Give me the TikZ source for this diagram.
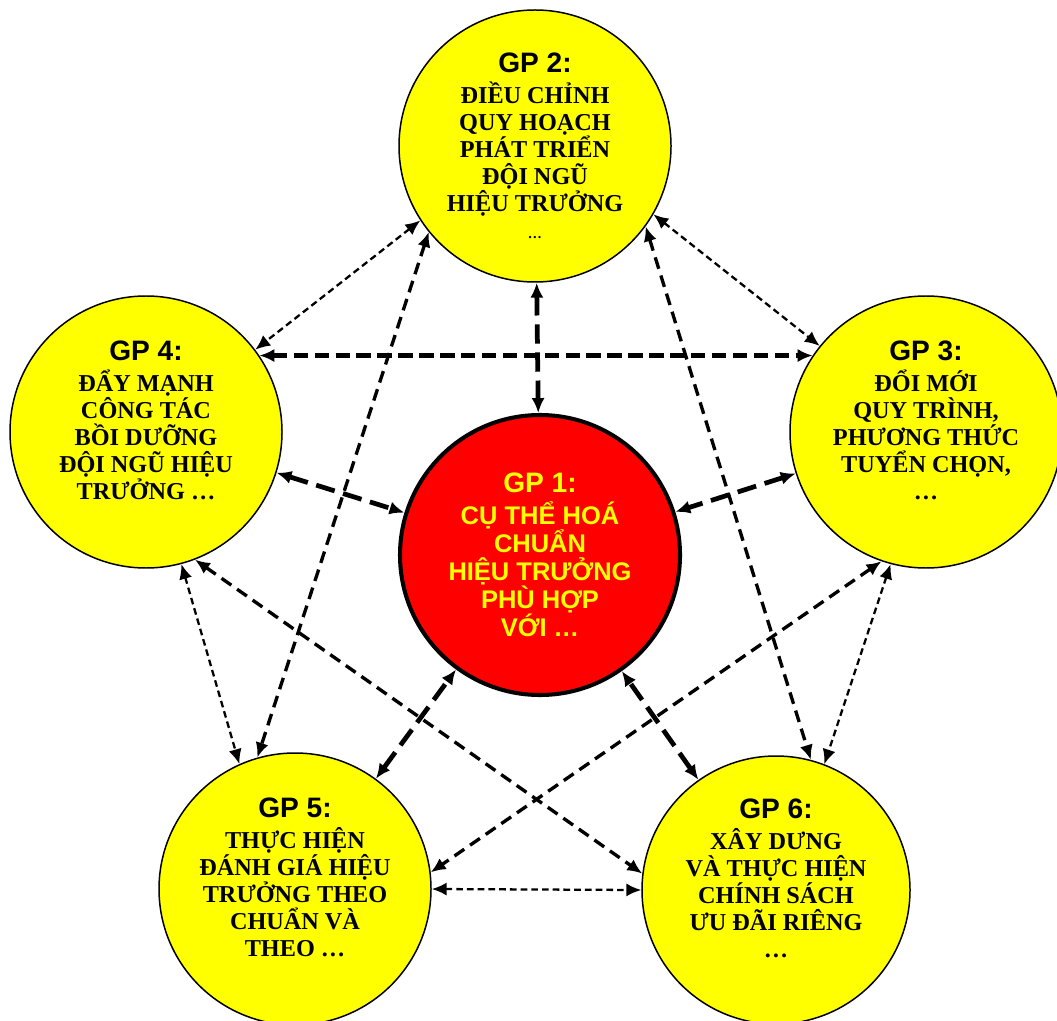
\documentclass[tikz,border=0pt]{standalone}
\usepackage{fontspec}
\setmainfont{Liberation Serif}
\newfontfamily\gpsans{Liberation Sans}
\usetikzlibrary{arrows.meta}
\definecolor{gpyellow}{RGB}{255,255,0}
\definecolor{gpred}{RGB}{255,0,0}
\newcommand{\gplabel}[1]{{\gpsans\fontsize{16}{17}\selectfont GP #1:}\\[2pt]}

\begin{document}
\begin{tikzpicture}[line join=miter,>={Latex[length=8.5pt,width=7.5pt]},
  goal/.style={circle,draw,line width=0.85pt,fill=gpyellow,minimum size=5.44cm,
    inner sep=0pt,align=center,font=\bfseries\fontsize{13.8}{15.4}\selectfont},
  lifted/.style={text depth=13pt},
  core/.style={circle,draw,line width=2.3pt,fill=gpred,text=gpyellow,minimum size=5.6cm,
    inner sep=0pt,align=center,font=\gpsans\bfseries\fontsize{14.5}{16}\selectfont},
  thinlink/.style={<->,line width=1.3pt,dash pattern=on 3.8pt off 2.3pt},
  midlink/.style={<->,line width=1.9pt,dash pattern=on 6.8pt off 4pt},
  thicklink/.style={<->,line width=2.7pt,dash pattern=on 11pt off 5pt},
  barlink/.style={<->,line width=2.5pt,dash pattern=on 8.2pt off 3.7pt}]
  \useasboundingbox (0,0) rectangle (21.14,20.40);

  \node[goal] (GP2) at (10.70,17.48) {\gplabel{2}ĐIỀU CHỈNH\\QUY HOẠCH\\PHÁT TRIỂN\\ĐỘI NGŨ\\HIỆU TRƯỞNG\\{\footnotesize …}};
  \node[goal,lifted] (GP4) at (2.92,11.76) {\gplabel{4}ĐẨY MẠNH\\CÔNG TÁC\\BỒI DƯỠNG\\ĐỘI NGŨ HIỆU\\TRƯỞNG …};
  \node[goal,lifted] (GP3) at (18.52,11.76) {\gplabel{3}ĐỔI MỚI\\QUY TRÌNH,\\PHƯƠNG THỨC\\TUYỂN CHỌN,\\…};
  \node[core] (GP1) at (10.80,9.30) {\gplabel{1}CỤ THỂ HOÁ\\CHUẨN\\HIỆU TRƯỞNG\\PHÙ HỢP\\VỚI …};
  \node[goal,lifted] (GP5) at (5.90,2.62) {\gplabel{5}THỰC HIỆN\\ĐÁNH GIÁ HIỆU\\TRƯỞNG THEO\\CHUẨN VÀ\\THEO …};
  \node[goal,lifted,minimum size=5.36cm] (GP6) at (15.52,2.60) {\gplabel{6}XÂY DƯNG\\VÀ THỰC HIỆN\\CHÍNH SÁCH\\ƯU ĐÃI RIÊNG\\…};

  \draw[thicklink] (GP2) -- (GP1);
  \draw[thicklink] (GP4) -- (GP1);
  \draw[thicklink] (GP3) -- (GP1);
  \draw[thicklink] (GP5) -- (GP1);
  \draw[thicklink] (GP6) -- (GP1);
  \draw[barlink] (GP4.34) -- (GP3.146);

  \draw[thinlink] (GP2.213) -- (GP4.37);
  \draw[thinlink] (GP2.330) -- (GP3.141);
  \draw[thinlink] (GP4.285) -- (GP5.114);
  \draw[thinlink] (GP3.255) -- (GP6.69);
  \draw[thinlink] (GP5.0) -- (GP6.180);

  \draw[midlink] (GP2.219) -- (GP5.106);
  \draw[midlink] (GP2.324) -- (GP6.75);
  \draw[midlink] (GP4.291) -- (GP6.173);
  \draw[midlink] (GP3.251) -- (GP5.7);
\end{tikzpicture}
\end{document}
